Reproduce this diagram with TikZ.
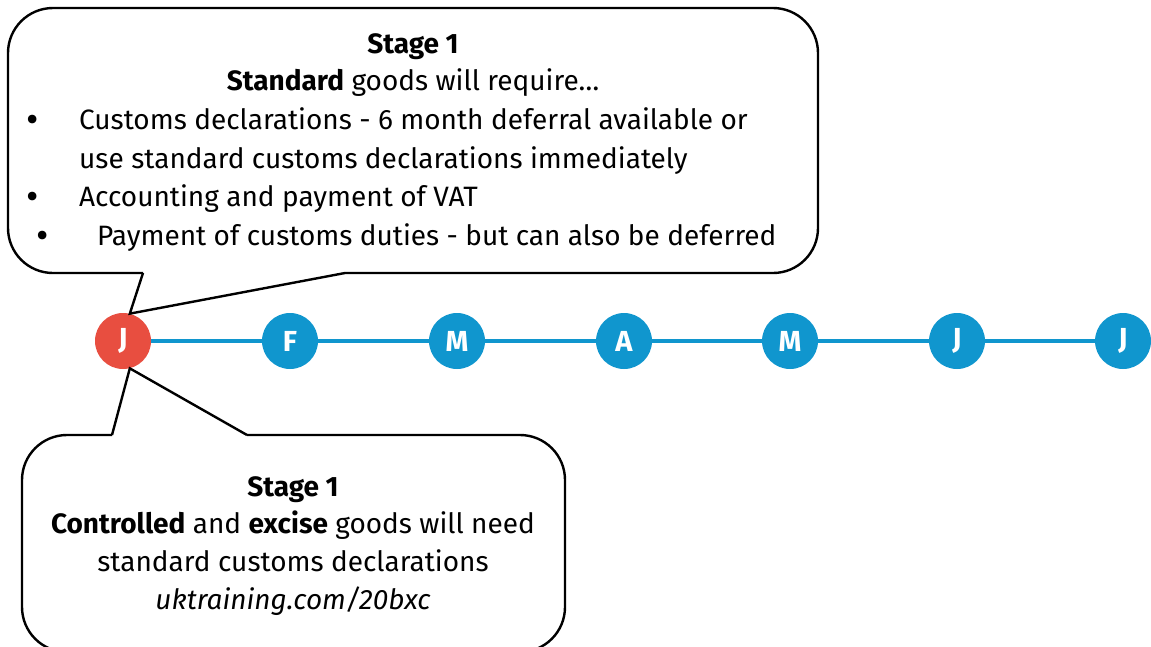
\documentclass[tikz,border=0pt]{standalone}
\usepackage{fontspec}
\setmainfont{Fira Sans}
\usepackage{xcolor}
\usetikzlibrary{positioning}

\definecolor{stageRed}{RGB}{232,78,64}
\definecolor{lineBlue}{RGB}{16,150,206}

\tikzset{
	month/.style={circle, fill=lineBlue, minimum size=56pt, inner sep=0pt,
		text=white, font=\fontsize{29}{29}\selectfont\bfseries},
	bubble/.style={draw=black, line width=2.4pt},
	txt/.style={inner sep=0pt, anchor=base, font=\fontsize{28}{32}\selectfont},
	item/.style={txt, anchor=base west},
	dot/.style={inner sep=0pt, anchor=center, font=\fontsize{38}{38}\selectfont},
}

\begin{document}
\begin{tikzpicture}[x=1pt,y=1pt]
		\useasboundingbox (0,0) rectangle (1151,-646);

		% months along the line
		\node[month, fill=stageRed] (jan) at (123,-341) {J};
		\node[month] (feb) at (290,-341) {F};
		\node[month] (mar) at (457,-341) {M};
		\node[month] (apr) at (624,-341) {A};
		\node[month] (may) at (790,-341) {M};
		\node[month] (jun) at (957,-341) {J};
		\node[month] (jul) at (1123,-341) {J};
		%
		\path[lineBlue, line width=4pt]
		(jan) edge (feb)
		(feb) edge (mar)
		(mar) edge (apr)
		(apr) edge (may)
		(may) edge (jun)
		(jun) edge (jul);

		% upper bubble
		\coordinate (upL) at (143,-273);
		\coordinate (upR) at (345,-273);
		\draw[bubble, rounded corners=45pt]
		(upR) -- (818,-273) -- (818,-8) -- (8,-8) -- (8,-273) -- (upL);
		\draw[bubble] (upL) -- (jan.76) -- (upR);

		\node[txt] (upStage) at (413,-53) {\bfseries Stage 1};
		\node[txt] (upHead) at (413,-90) {\textbf{Standard} goods will require…};
		\node[dot] (b1) at (33,-124) {•};
		\node[item] (customs) at (79,-129) {Customs declarations - 6 month deferral available or};
		\node[item] (customs2) at (79,-168) {use standard customs declarations immediately};
		\node[dot] (b2) at (33,-201) {•};
		\node[item] (vat) at (79,-206) {Accounting and payment of VAT};
		\node[dot] (b3) at (43,-240) {•};
		\node[item] (duties) at (97,-245) {Payment of customs duties - but can also be deferred};

		% lower bubble, its bottom edge runs off the page
		\coordinate (loL) at (112,-435);
		\coordinate (loR) at (247,-435);
		\draw[bubble, rounded corners=45pt]
		(loR) -- (565,-435) -- (565,-652) -- (22,-652) -- (22,-435) -- (loL);
		\draw[bubble] (loL) -- (jan.-76) -- (loR);

		\node[txt] (loStage) at (293,-496) {\bfseries Stage 1};
		\node[txt] (loHead) at (293,-533) {\textbf{Controlled} and \textbf{excise} goods will need};
		\node[txt] (loDecl) at (293,-571) {standard customs declarations};
		\node[txt] (loLink) at (293,-609) {\itshape uktraining.com/20bxc};
\end{tikzpicture}
\end{document}
